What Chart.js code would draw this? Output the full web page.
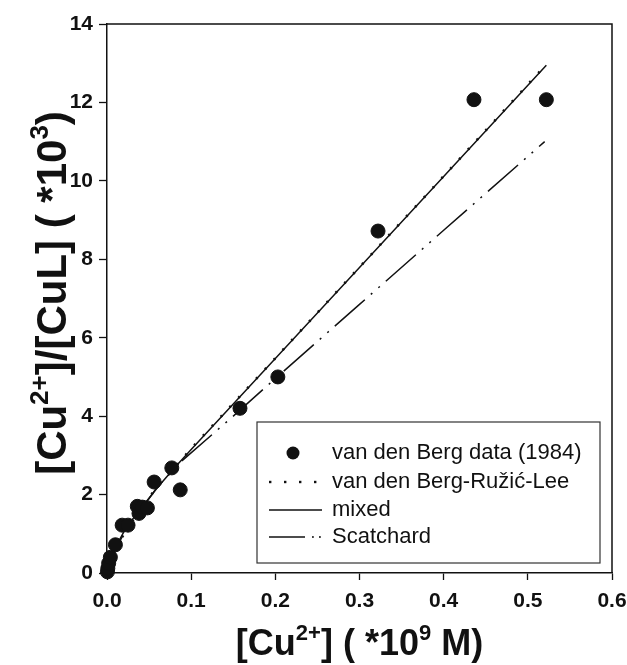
<!DOCTYPE html>
<html>
<head>
<meta charset="utf-8">
<script src="https://cdn.jsdelivr.net/npm/chart.js@4.4.1/dist/chart.umd.min.js"></script>
<style>
  html, body { margin: 0; padding: 0; background: #ffffff; }
  #wrap { width: 627px; height: 665px; position: relative; }
</style>
</head>
<body>
<div id="wrap"><canvas id="c" width="627" height="665"></canvas></div>
<script>
// ---- data ----
const dataX = [0.0005, 0.001, 0.002, 0.004, 0.010, 0.018, 0.025, 0.036, 0.038, 0.042, 0.048, 0.056, 0.077, 0.087, 0.158, 0.203, 0.322, 0.436, 0.522];
const dataY = [0.03, 0.12, 0.25, 0.40, 0.72, 1.22, 1.22, 1.70, 1.52, 1.68, 1.66, 2.32, 2.68, 2.12, 4.20, 5.00, 8.72, 12.07, 12.07];

const ruzicX = [0, 0.01, 0.03, 0.06, 0.1, 0.2, 0.3, 0.4, 0.522];
const ruzicY = [0, 0.6, 1.38, 2.2, 3.17, 5.48, 7.8, 10.12, 12.97];

const mixedX = [0, 0.005, 0.01, 0.015, 0.02, 0.03, 0.04, 0.06, 0.08, 0.1, 0.15, 0.2, 0.3, 0.4, 0.522];
const mixedY = [0, 0.35, 0.62, 0.85, 1.05, 1.36, 1.64, 2.18, 2.68, 3.15, 4.31, 5.47, 7.79, 10.11, 12.95];

const scatX = [0, 0.01, 0.02, 0.04, 0.06, 0.09, 0.15, 0.2, 0.3, 0.4, 0.52];
const scatY = [0, 0.6, 1.0, 1.6, 2.2, 2.88, 4.0, 4.96, 6.85, 8.74, 11.0];

const seriesNames = ["van den Berg data (1984)", "van den Berg-Ružić-Lee", "mixed", "Scatchard"];
const xTicks = [0, 0.1, 0.2, 0.3, 0.4, 0.5, 0.6];
const yTicks = [0, 2, 4, 6, 8, 10, 12, 14];

const FONT = 'Arial, "Liberation Sans", Helvetica, sans-serif';
const pts = (xs, ys) => xs.map((x, i) => ({ x: x, y: ys[i] }));
const SCAT_DASH = [40, 8, 2, 8, 2, 8];

// frame (top/right), axis titles with superscripts, legend box
const decorPlugin = {
  id: 'decor',
  afterDraw(chart) {
    const ctx = chart.ctx;
    const a = chart.chartArea;
    ctx.save();
    ctx.strokeStyle = '#111';
    ctx.lineWidth = 1.5;
    ctx.beginPath();
    ctx.moveTo(a.left, a.top);
    ctx.lineTo(a.right, a.top);
    ctx.lineTo(a.right, a.bottom);
    ctx.stroke();

    function runs(parts, size) {
      return parts.map(p => ({ t: p[0], sup: !!p[1], f: 'bold ' + (p[1] ? Math.round(size * 0.62) : size) + 'px ' + FONT }));
    }
    function width(rs) {
      let w = 0;
      rs.forEach(r => { ctx.font = r.f; w += ctx.measureText(r.t).width; });
      return w;
    }
    function drawRuns(rs, x, y, size) {
      let cx = x;
      rs.forEach(r => {
        ctx.font = r.f;
        ctx.fillText(r.t, cx, r.sup ? y - size * 0.42 : y);
        cx += ctx.measureText(r.t).width;
      });
    }
    ctx.fillStyle = '#111';
    ctx.textBaseline = 'alphabetic';
    ctx.textAlign = 'left';

    // x title
    const xs = 36;
    const xr = runs([["[Cu"], ["2+", 1], ["] ( *10"], ["9", 1], [" M)"]], xs);
    const xw = width(xr);
    drawRuns(xr, (a.left + a.right) / 2 - xw / 2, 655, xs);

    // y title
    const ys = 42;
    const yr = runs([["[Cu"], ["2+", 1], ["]/[CuL] ( *10"], ["3", 1], [")"]], ys);
    const yw = width(yr);
    ctx.save();
    ctx.translate(66, 293);
    ctx.rotate(-Math.PI / 2);
    drawRuns(yr, -yw / 2, 0, ys);
    ctx.restore();

    // legend
    const lx = 257, ly = 422, lw = 343, lh = 141;
    ctx.fillStyle = '#fff';
    ctx.fillRect(lx, ly, lw, lh);
    ctx.strokeStyle = '#333';
    ctx.lineWidth = 1.2;
    ctx.strokeRect(lx, ly, lw, lh);
    const ds = chart.data.datasets;
    const rowY = [453, 482, 510, 537];
    ctx.font = '22px ' + FONT;
    ctx.textBaseline = 'middle';
    for (let i = 0; i < ds.length; i++) {
      const y = rowY[i];
      ctx.fillStyle = '#111';
      ctx.fillText(ds[i].label, 332, y);
      ctx.strokeStyle = '#111';
      if (i === 0) {
        ctx.beginPath();
        ctx.arc(293, y, 6.5, 0, Math.PI * 2);
        ctx.fill();
      } else if (i === 1) {
        for (let k = 0; k < 4; k++) {
          ctx.fillRect(269 + k * 15, y - 1.2, 2.4, 2.4);
        }
      } else if (i === 2) {
        ctx.beginPath();
        ctx.lineWidth = 1.5;
        ctx.moveTo(269, y);
        ctx.lineTo(322, y);
        ctx.stroke();
      } else {
        ctx.beginPath();
        ctx.lineWidth = 1.5;
        ctx.moveTo(269, y);
        ctx.lineTo(305, y);
        ctx.stroke();
        ctx.fillRect(312, y - 0.8, 1.8, 1.6);
        ctx.fillRect(319, y - 0.8, 1.8, 1.6);
      }
    }
    ctx.restore();
  }
};

new Chart(document.getElementById('c'), {
  type: 'scatter',
  data: {
    datasets: [
      {
        label: seriesNames[0],
        data: pts(dataX, dataY),
        pointRadius: 7,
        pointBackgroundColor: '#111',
        pointBorderColor: '#111',
        showLine: false,
        order: 0
      },
      {
        label: seriesNames[1],
        data: pts(ruzicX, ruzicY),
        showLine: true,
        pointRadius: 0,
        borderColor: '#111',
        borderWidth: 2.6,
        borderDash: [2, 11],
        tension: 0,
        order: 2
      },
      {
        label: seriesNames[2],
        data: pts(mixedX, mixedY),
        showLine: true,
        pointRadius: 0,
        borderColor: '#111',
        borderWidth: 1.5,
        tension: 0,
        order: 3
      },
      {
        label: seriesNames[3],
        data: pts(scatX, scatY),
        showLine: true,
        pointRadius: 0,
        borderColor: '#111',
        borderWidth: 1.5,
        borderDash: SCAT_DASH,
        tension: 0,
        order: 4
      }
    ]
  },
  options: {
    responsive: false,
    animation: false,
    events: [],
    clip: false,
    layout: { padding: { top: 24, right: 15, left: 0, bottom: 0 } },
    plugins: {
      legend: { display: false },
      tooltip: { enabled: false },
      title: { display: false }
    },
    scales: {
      x: {
        type: 'linear',
        min: 0, max: 0.6,
        afterFit(s) { s.height = 92; s.paddingLeft = 0; s.paddingRight = 0; },
        afterBuildTicks(s) { s.ticks = xTicks.map(v => ({ value: v })); },
        border: { display: true, color: '#111', width: 1.5 },
        grid: { display: true, drawOnChartArea: false, drawTicks: true, tickLength: 7, color: '#111', tickColor: '#111', tickWidth: 1.3 },
        ticks: {
          color: '#111',
          padding: 9,
          maxRotation: 0,
          font: { family: FONT, size: 21, weight: 'bold' },
          callback: v => Number(v).toFixed(1)
        }
      },
      y: {
        type: 'linear',
        min: 0, max: 14,
        afterFit(s) { s.width = 107; s.paddingTop = 0; s.paddingBottom = 0; },
        afterBuildTicks(s) { s.ticks = yTicks.map(v => ({ value: v })); },
        border: { display: true, color: '#111', width: 1.5 },
        grid: { display: true, drawOnChartArea: false, drawTicks: true, tickLength: 8, color: '#111', tickColor: '#111', tickWidth: 1.3 },
        ticks: {
          color: '#111',
          padding: 6,
          font: { family: FONT, size: 21, weight: 'bold' },
          callback: v => String(v)
        }
      }
    }
  },
  plugins: [decorPlugin]
});
</script>
</body>
</html>
